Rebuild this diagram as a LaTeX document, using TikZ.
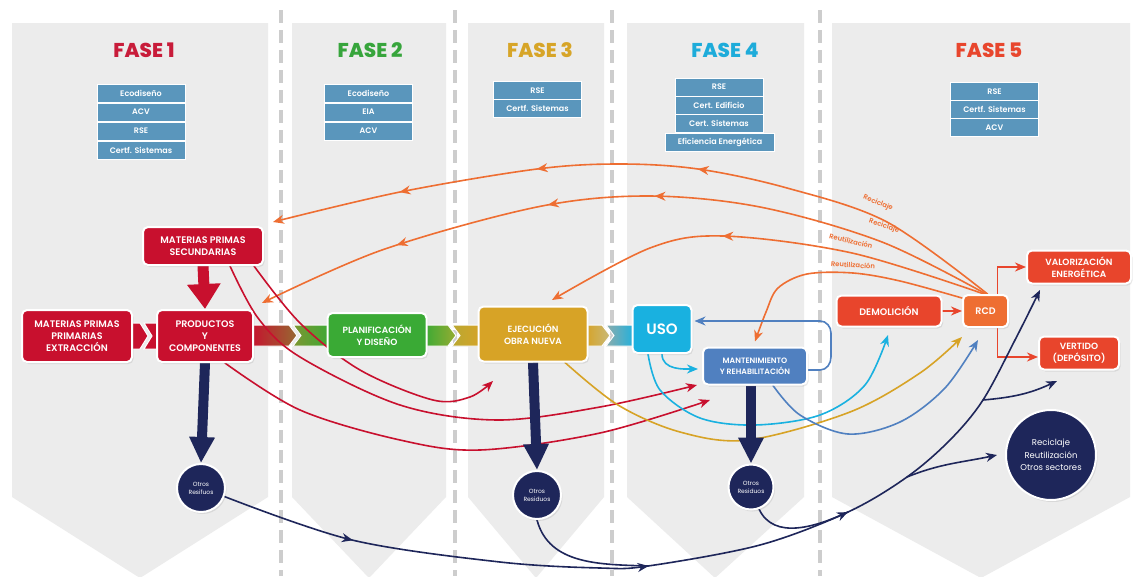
\documentclass[tikz,border=0pt]{standalone}
\usepackage{fontspec}
\setmainfont{Poppins}
\IfFontExistsTF{Poppins SemiBold}{\newfontfamily\semib{Poppins SemiBold}}{\newcommand\semib{\bfseries}}
\IfFontExistsTF{Poppins ExtraBold}{\newfontfamily\xbold{Poppins ExtraBold}}{\newcommand\xbold{\bfseries}}
\usetikzlibrary{arrows.meta,decorations.markings,shadows}
\pgfdeclarelayer{bg}\pgfdeclarelayer{mid}\pgfsetlayers{bg,mid,main}
\definecolor{cRed}{RGB}{200,16,46}
\definecolor{cGreen}{RGB}{58,170,53}
\definecolor{cGold}{RGB}{215,163,38}
\definecolor{cCyan}{RGB}{25,177,224}
\definecolor{cRedF}{RGB}{232,69,44}
\definecolor{cOrange}{RGB}{238,110,50}
\definecolor{cTag}{RGB}{90,150,188}
\definecolor{cMant}{RGB}{80,128,192}
\definecolor{cNavy}{RGB}{30,38,90}
\definecolor{cPanel}{RGB}{236,236,236}
\definecolor{cDash}{RGB}{205,205,205}
\definecolor{tOne}{RGB}{200,28,58}
\definecolor{tTwo}{RGB}{55,165,60}
\definecolor{tThree}{RGB}{215,165,40}
\definecolor{tFour}{RGB}{30,172,218}
\definecolor{tFive}{RGB}{232,70,45}
\tikzset{
 box/.style={rectangle, rounded corners=5pt, draw=white, line width=2pt, text=white, align=center, inner sep=1pt,
   font=\semib\fontsize{9.5}{12}\selectfont, drop shadow={opacity=0.18, shadow xshift=1.5pt, shadow yshift=-2pt}},
 tagbox/.style={rectangle, fill=cTag, draw=white, line width=0.8pt, text=white, minimum width=88pt, minimum height=18pt,
   inner sep=0pt, font=\semib\fontsize{8}{10}\selectfont},
 fasetitle/.style={font=\xbold\fontsize{20}{24}\selectfont},
 curve/.style={line width=1.6pt, line cap=round},
 circ/.style={circle, fill=cNavy, draw=white, line width=2pt, text=white, align=center, inner sep=0pt,
   drop shadow={opacity=0.18, shadow xshift=1.5pt, shadow yshift=-2pt}},
 olabel/.style={text=cOrange, font=\semib\fontsize{6.8}{8}\selectfont, inner sep=0pt},
 bandseg/.style={draw=white, line width=1pt},
 dashline/.style={cDash, line width=4.5pt, dash pattern=on 13pt off 7pt},
 bigarrow/.style={line width=10pt, -{Triangle[length=26pt,width=24pt]}},
}
\begin{document}
\begin{tikzpicture}[x=1pt,y=1pt,>={Stealth[length=11pt,width=9pt,inset=3.5pt]}]
\useasboundingbox (0,0) rectangle (1141,-576);
\begin{pgfonlayer}{bg}
\fill[white] (0,0) rectangle (1141,-576);
\fill[cPanel] (12,-23) -- (268,-23) -- (268,-497) -- (140,-578) -- (12,-497) -- cycle;
\fill[cPanel] (292,-23) -- (446,-23) -- (446,-497) -- (369,-578) -- (292,-497) -- cycle;
\fill[cPanel] (468,-23) -- (604,-23) -- (604,-497) -- (536,-578) -- (468,-497) -- cycle;
\fill[cPanel] (627,-23) -- (804,-23) -- (804,-497) -- (715,-578) -- (627,-497) -- cycle;
\fill[cPanel] (832,-23) -- (1130,-23) -- (1130,-497) -- (981,-578) -- (832,-497) -- cycle;
\draw[dashline] (281,-10) -- (281,-576);
\draw[dashline] (455,-10) -- (455,-576);
\draw[dashline] (612,-10) -- (612,-576);
\draw[dashline] (820,-10) -- (820,-576);
\end{pgfonlayer}

% titles
\node[fasetitle, text=tOne] (f1) at (144,-50) {FASE 1};
\node[fasetitle, text=tTwo] (f2) at (370,-50) {FASE 2};
\node[fasetitle, text=tThree] (f3) at (540,-50) {FASE 3};
\node[fasetitle, text=tFour] (f4) at (725,-50) {FASE 4};
\node[fasetitle, text=tFive] (f5) at (989,-50) {FASE 5};

% tags
\node[tagbox] (a1) at (141,-93) {Ecodiseño};
\node[tagbox] (a2) at (141,-112) {ACV};
\node[tagbox] (a3) at (141,-131) {RSE};
\node[tagbox] (a4) at (141,-150) {Certf. Sistemas};
\node[tagbox] (b1) at (368.5,-93) {Ecodiseño};
\node[tagbox] (b2) at (368.5,-112) {EIA};
\node[tagbox] (b3) at (368.5,-131) {ACV};
\node[tagbox] (c1t) at (537.5,-90.5) {RSE};
\node[tagbox] (c2t) at (537.5,-108.5) {Certf. Sistemas};
\node[tagbox] (d1) at (719,-87) {RSE};
\node[tagbox] (d2) at (719,-105.5) {Cert. Edificio};
\node[tagbox] (d3) at (719,-123.5) {Cert. Sistemas};
\node[tagbox, minimum width=109pt] (d4) at (720,-142) {Eficiencia Energética};
\node[tagbox] (e1) at (994.5,-91.5) {RSE};
\node[tagbox] (e2) at (994.5,-109.5) {Certf. Sistemas};
\node[tagbox] (e3) at (994.5,-127.5) {ACV};

% main boxes
\node[box, fill=cRed, minimum width=120pt, minimum height=38pt] (mps) at (203,-246) {MATERIAS PRIMAS\\SECUNDARIAS};
\node[box, fill=cRed, minimum width=110pt, minimum height=52pt] (mpp) at (77,-336) {MATERIAS PRIMAS\\PRIMARIAS\\EXTRACCIÓN};
\node[box, fill=cRed, minimum width=96pt, minimum height=52pt] (prod) at (205,-336) {PRODUCTOS\\Y\\COMPONENTES};
\node[box, fill=cGreen, minimum width=99pt, minimum height=44pt, font=\semib\fontsize{9}{12}\selectfont] (plan) at (377,-335) {PLANIFICACIÓN\\Y DISEÑO};
\node[box, fill=cGold, minimum width=109pt, minimum height=55pt, font=\semib\fontsize{9}{12}\selectfont] (ejec) at (533,-334) {EJECUCIÓN\\OBRA NUEVA};
\node[box, fill=cCyan, minimum width=59pt, minimum height=48pt, font=\semib\fontsize{15}{18}\selectfont] (uso) at (662,-329) {USO};
\node[box, fill=cMant, minimum width=104pt, minimum height=37pt, font=\semib\fontsize{7.8}{11}\selectfont] (mant) at (755,-366) {MANTENIMIENTO\\Y REHABILITACIÓN};
\node[box, fill=cRedF, minimum width=105pt, minimum height=31pt] (demol) at (889,-311) {DEMOLICIÓN};
\node[box, fill=cOrange, minimum width=45pt, minimum height=32pt] (rcd) at (985.5,-311) {RCD};
\node[box, fill=cRedF, minimum width=104pt, minimum height=33pt, font=\semib\fontsize{9}{11.5}\selectfont] (valor) at (1079,-267) {VALORIZACIÓN\\ENERGÉTICA};
\node[box, fill=cRedF, minimum width=80pt, minimum height=33pt, font=\semib\fontsize{9}{11.5}\selectfont] (vert) at (1079,-353) {VERTIDO\\(DEPÓSITO)};
\node[circ, minimum size=48pt, font=\fontsize{6}{8}\selectfont] (c1) at (201,-488) {Otros\\Resifuos};
\node[circ, minimum size=48pt, font=\fontsize{6}{8}\selectfont] (c2) at (537,-495) {Otros\\Residuos};
\node[circ, minimum size=45pt, font=\fontsize{6}{8}\selectfont] (c3) at (751,-487) {Otros\\Residuos};
\node[circ, minimum size=90pt, font=\fontsize{8.5}{12.5}\selectfont] (cbig) at (1051,-455) {Reciclaje\\Reutilización\\Otros sectores};

% curve labels
\node[olabel, rotate=-22] (l1) at (878,-203) {Reciclaje};
\node[olabel, rotate=-18] (l2) at (884,-226) {Reciclaje};
\node[olabel, rotate=-14] (l3) at (851,-241) {Reutilización};
\node[olabel, rotate=-4] (l4) at (853,-265) {Reutilización};

\begin{pgfonlayer}{mid}
% band
\fill[bandseg, fill=cRed] (128,-323) -- (140,-323) -- (148,-336) -- (140,-349) -- (128,-349) -- cycle;
\fill[bandseg, fill=cRed] (144,-323) -- (160,-323) -- (160,-349) -- (144,-349) -- (152,-336) -- cycle;
\filldraw[bandseg, left color=cRed, right color={rgb,255:red,150;green,105;blue,50}] (250,-325) -- (289,-325) -- (297,-335.5) -- (289,-346) -- (250,-346) -- cycle;
\filldraw[bandseg, left color={rgb,255:red,125;green,150;blue,50}, right color=cGreen] (293,-325) -- (331,-325) -- (331,-346) -- (293,-346) -- (301,-335.5) -- cycle;
\filldraw[bandseg, left color=cGreen, right color={rgb,255:red,150;green,172;blue,50}] (424,-325) -- (448,-325) -- (456,-335.5) -- (448,-346) -- (424,-346) -- cycle;
\filldraw[bandseg, left color={rgb,255:red,185;green,168;blue,50}, right color=cGold] (452,-325) -- (482,-325) -- (482,-346) -- (452,-346) -- (460,-335.5) -- cycle;
\filldraw[bandseg, left color=cGold, right color={rgb,255:red,200;green,185;blue,120}] (585,-325) -- (602,-325) -- (610,-335.5) -- (602,-346) -- (585,-346) -- cycle;
\filldraw[bandseg, left color={rgb,255:red,140;green,172;blue,172}, right color=cCyan] (606,-325) -- (636,-325) -- (636,-346) -- (606,-346) -- (614,-335.5) -- cycle;

% orange return curves
\draw[cOrange, curve, ->, postaction={decorate}, decoration={markings, mark=at position 0.427 with {\arrow{>}}, mark=at position 0.642 with {\arrow{>}}, mark=at position 0.827 with {\arrow{>}}}]
 plot[smooth, tension=0.55] coordinates {([xshift=2pt]rcd.north) (887,-222) (787,-188) (698,-169) (620,-164) (537,-169) (400,-192) (273,-222)};
\draw[cOrange, curve, ->, postaction={decorate}, decoration={markings, mark=at position 0.46 with {\arrow{>}}, mark=at position 0.601 with {\arrow{>}}, mark=at position 0.807 with {\arrow{>}}}]
 plot[smooth, tension=0.55] coordinates {([xshift=0.5pt]rcd.north) (882,-242) (760,-207) (647,-196) (537,-207) (382,-250) (262,-303)};
\draw[cOrange, curve, ->, postaction={decorate}, decoration={markings, mark=at position 0.593 with {\arrow{>}}}]
 plot[smooth, tension=0.55] coordinates {([xshift=-1.5pt]rcd.north) (852,-253) (723,-236) (650,-248) (552,-300)};
\draw[cOrange, curve, ->]
 plot[smooth, tension=0.55] coordinates {([yshift=-4pt]rcd.north west) (900,-281) (853,-273) (807,-274) (778,-288) (766,-312) ([yshift=5pt]mant.north)};

% red curves
\draw[cRed, curve, ->] plot[smooth, tension=0.55] coordinates {([xshift=-10pt]mps.south east) (300,-323) (360,-370) (433,-400) (470,-397) (493,-381)};
\draw[cRed, curve, ->] plot[smooth, tension=0.55] coordinates {([xshift=27pt]mps.south) (258,-318) (300,-357) (400,-405) (497,-420) (600,-407) (697,-385)};
\draw[cRed, curve, ->] plot[smooth, tension=0.55] coordinates {([xshift=20pt]prod.south) (300,-410) (400,-440) (480,-450) (600,-433) (710,-400)};

% gold, cyan, blue
\draw[cGold, curve, ->] plot[smooth, tension=0.55] coordinates {([xshift=32pt]ejec.south) (618,-405) (680,-432) (748,-440) (850,-412) (920,-373) (962,-337)};
\draw[cCyan, curve, ->] plot[smooth, tension=0.55] coordinates {([xshift=-14pt]uso.south) (660,-390) (700,-418) (755,-425) (820,-415) (865,-385) (888,-335)};
\draw[cCyan, curve, ->, shorten >=4pt] (uso.south) to[out=-90, in=180] ([yshift=-3pt]mant.west);
\draw[cMant, curve, ->, shorten >=2pt] ([yshift=-4pt]mant.east) -- (820,-370) to[out=0, in=-90] (831,-357) -- (831,-333) to[out=90, in=0] (820,-321) -- ([yshift=8pt]uso.east);
\draw[cMant, curve, ->] plot[smooth, tension=0.55] coordinates {([xshift=18pt]mant.south) (800,-415) (848,-434) (900,-422) (945,-388) (978,-340)};

% red-orange from RCD
\draw[cRedF, curve, ->] ([xshift=12pt]rcd.north) |- (valor.west);
\draw[cRedF, curve, ->] ([xshift=12pt]rcd.south) |- ([yshift=-4pt]vert.west);
\draw[cRedF, curve, ->] (demol.east) -- (rcd.west);

% thick arrows
\draw[cRed, line width=11pt, -{Triangle[length=25pt,width=32pt]}] (mps.south) -- (prod.north);
\draw[cNavy, bigarrow] (prod.south) -- (c1.north);
\draw[cNavy, bigarrow] (ejec.south) -- (c2.north);
\draw[cNavy, bigarrow] (c3.north |- mant.south) -- (c3.north);

% navy flows
\coordinate (nj1) at (648,-566);
\coordinate (nj2) at (848,-512);
\coordinate (nb1) at (907,-477);
\coordinate (nb2) at (983,-400);
\draw[cNavy, curve, ->, postaction={decorate}, decoration={markings, mark=at position 0.144 with {\arrow{>}}, mark=at position 0.46 with {\arrow{>}}, mark=at position 0.68 with {\arrow{>}}}]
 plot[smooth, tension=0.55] coordinates {(c1.-20) (352,-540) (500,-562) (600,-568) (nj1) (760,-545) (nj2) (nb1) (950,-440) (nb2) (1015,-340) (1040,-290)};
\draw[cNavy, curve] (c2.south) to[out=-75, in=178] (nj1);
\draw[cNavy, curve] (c3.-70) to[out=-65, in=205] (nj2);
\draw[cNavy, curve, ->] (nb1) to[out=22, in=192] ([xshift=-8pt]cbig.west);
\draw[cNavy, curve, ->] (nb2) to[out=5, in=205] (1057,-381);
\end{pgfonlayer}
\end{tikzpicture}
\end{document}
